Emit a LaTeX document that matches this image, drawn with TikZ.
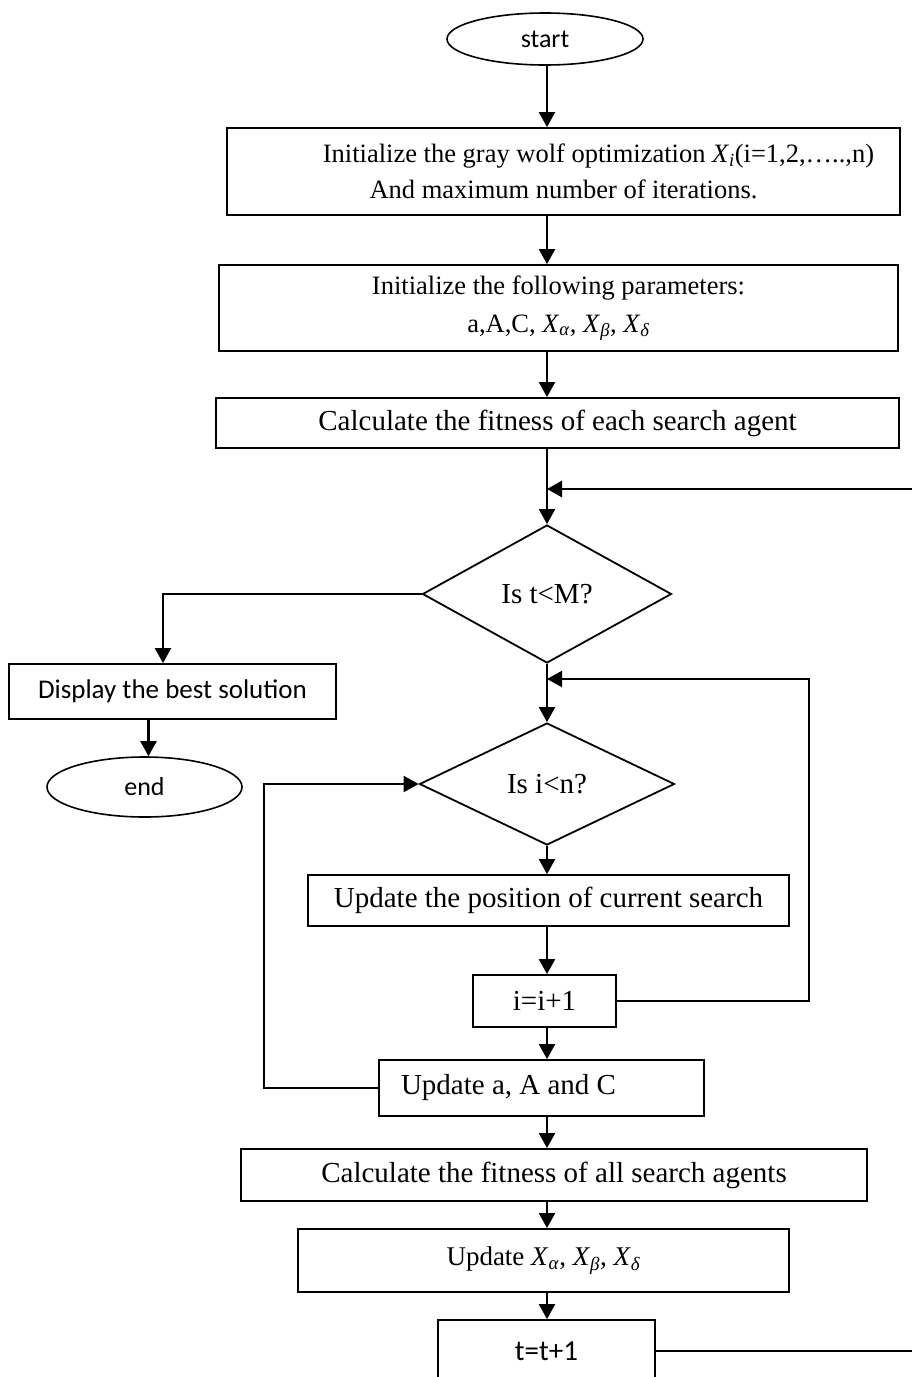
\documentclass[tikz,border=0pt]{standalone}
\usepackage{fontspec}
\setmainfont{Liberation Serif}
\newfontfamily\sansf{Carlito}
\usetikzlibrary{shapes.geometric,arrows.meta}
\newcommand{\Xs}[1]{\textit{X}\textsubscript{\textit{#1}}}
\begin{document}
\begin{tikzpicture}[x=1pt,y=-1pt,
  box/.style={draw,line width=1.8pt,rectangle,inner sep=0pt,align=center,font=\fontsize{29}{34}\selectfont},
  term/.style={draw,line width=1.6pt,ellipse,inner sep=0pt,font=\sansf\fontsize{26}{31}\selectfont},
  dec/.style={draw,line width=1.8pt,diamond,inner sep=0pt,font=\fontsize{29}{34}\selectfont},
  conn/.style={line width=2.2pt,-{Triangle[length=15pt,width=16pt]}},
  backconn/.style={line width=2.8pt,-{Triangle[length=15pt,width=16pt]}}]
\useasboundingbox (0,0) rectangle (912,1377);
\clip (0,0) rectangle (912,1377);

\coordinate (ax) at (547,0);
\coordinate (j0) at (547,489);
\coordinate (j1) at (547,679);

\node[term, minimum width=196pt, minimum height=52pt] (start) at (545,39) {start};
\node[box, minimum width=673pt, minimum height=87pt, font=\fontsize{26.5}{36}\selectfont] (b1) at (563.5,171.5)
  {\hspace*{70pt}Initialize the gray wolf optimization \Xs{i}(i=1,2,…..,n)\\And maximum number of iterations.};
\node[box, minimum width=679pt, minimum height=86pt, font=\fontsize{26.5}{38}\selectfont] (b2) at (558.5,308)
  {Initialize the following parameters:\\a,A,C, \Xs{α}, \Xs{β}, \Xs{δ}};
\node[box, minimum width=683pt, minimum height=50pt] (b3) at (557.5,423) {Calculate the fitness of each search agent};
\node[dec, minimum width=249pt, minimum height=138pt] (d1) at (547,594) {Is t<M?};
\node[box, minimum width=327pt, minimum height=55pt, font=\sansf\fontsize{27}{32}\selectfont] (disp) at (172.5,691.5) {Display the best solution};
\node[term, minimum width=195pt, minimum height=60pt] (endn) at (144.5,787) {end};
\node[dec, minimum width=255pt, minimum height=122pt] (d2) at (547,784) {Is i<n?};
\node[box, minimum width=481pt, minimum height=51pt] (upos) at (548.5,900.5) {Update the position of current search};
\node[box, minimum width=143pt, minimum height=52pt] (ipp) at (544.5,1001) {i=i+1};
\node[box, minimum width=325pt, minimum height=56pt] (uac) at (541.5,1088) {\makebox[281pt][l]{Update a, A and C}};
\node[box, minimum width=626pt, minimum height=52pt] (ball) at (554,1175) {Calculate the fitness of all search agents};
\node[box, minimum width=491pt, minimum height=63pt, font=\fontsize{27}{32}\selectfont] (ux) at (543.5,1260.5) {Update \Xs{α}, \Xs{β}, \Xs{δ}};
\node[box, minimum width=217pt, minimum height=62pt, font=\sansf\fontsize{29}{34}\selectfont] (tt) at (546.5,1351) {t=t+1};

\draw[conn] (start.south -| ax) -- (b1.north -| ax);
\draw[conn] (b1.south -| ax) -- (b2.north -| ax);
\draw[conn] (b2.south -| ax) -- (b3.north -| ax);
\draw[conn] (b3.south -| ax) -- (d1.north);
\draw[conn] (d1.south) -- (d2.north);
\draw[conn] (d2.south) -- (upos.north -| ax);
\draw[conn] (upos.south -| ax) -- (ipp.north -| ax);
\draw[conn] (ipp.south -| ax) -- (uac.north -| ax);
\draw[conn] (uac.south -| ax) -- (ball.north -| ax);
\draw[conn] (ball.south -| ax) -- (ux.north -| ax);
\draw[conn] (ux.south -| ax) -- (tt.north -| ax);

\draw[conn] (d1.west) -| ([xshift=-9.5pt]disp.north);
\draw[conn] ([xshift=4pt]endn.north |- disp.south) -- ([xshift=4pt]endn.north);

\draw[conn] (ipp.east) -- ++(192,0) |- (j1);
\draw[conn] (uac.west) -- ++(-114,0) |- (d2.west);
\draw[backconn] (tt.east) -- ++(280,0) |- (j0);
\end{tikzpicture}
\end{document}
